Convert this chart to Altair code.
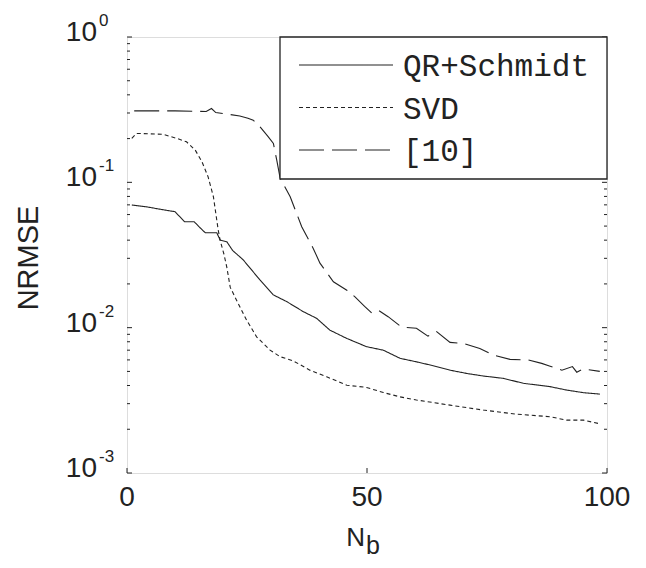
import altair as alt
import pandas as pd

# ---- data ----
methods = ["QR+Schmidt", "SVD", "[10]"]

nb_qr = [1, 4, 7, 10, 11, 12, 14, 15, 16.3, 18.7, 19.4, 20.8, 22, 24.2, 27.7, 30.5,
         33.3, 36.7, 39.5, 42.3, 45.8, 49.9, 53.4, 56.9, 60.3, 63.8, 67.3, 70.8,
         74.2, 78.4, 82.6, 88.1, 91.6, 95.1, 98.5]
err_qr = [0.0698, 0.0679, 0.0652, 0.0628, 0.058, 0.0536, 0.0536, 0.0495, 0.045,
          0.045, 0.0401, 0.039, 0.034, 0.0293, 0.0213, 0.0168, 0.0151, 0.0129,
          0.0116, 0.0096, 0.00843, 0.0074, 0.0070, 0.00615, 0.00582, 0.00547,
          0.0051, 0.00484, 0.00465, 0.00448, 0.00414, 0.00393, 0.00372, 0.00357,
          0.00349]

nb_svd = [1, 2, 7.5, 10.3, 12.4, 14.2, 15.6, 16.9, 18, 18.5, 19, 19.4, 20.2, 20.8,
          21.5, 22.8, 24.9, 27, 29.8, 31.9, 34.6, 38.1, 41.6, 45.8, 49.9, 53.4,
          56.9, 60.3, 67.3, 74.2, 81.2, 88.1, 91.6, 95.1, 98.5]
err_svd = [0.201, 0.217, 0.214, 0.201, 0.190, 0.167, 0.139, 0.109, 0.0796, 0.0612,
           0.047, 0.040, 0.032, 0.026, 0.019, 0.0155, 0.0113, 0.00865, 0.00701,
           0.00631, 0.00592, 0.0051, 0.00459, 0.00402, 0.00388, 0.00358, 0.00334,
           0.00318, 0.00293, 0.00271, 0.00254, 0.00244, 0.00231, 0.00231, 0.00218]

nb_ref = [1.5, 10, 16.5, 17.6, 18.5, 20.8, 23.5, 25.2, 26.3, 27.7, 29.4, 30.5, 31.2,
          31.9, 34, 36.4, 38.8, 40.2, 43, 45.8, 47.5, 49.5, 51, 52.5, 54.4, 57.2,
          60.3, 62.7, 64.5, 67.3, 70, 73.5, 76.3, 79.8, 83.6, 86.4, 88, 90.6, 92.8,
          93.7, 95, 98.5]
err_ref = [0.310, 0.310, 0.307, 0.322, 0.302, 0.295, 0.286, 0.276, 0.268, 0.241,
           0.206, 0.185, 0.142, 0.107, 0.0796, 0.0495, 0.0351, 0.0278, 0.0207,
           0.0181, 0.0163, 0.0140, 0.0126, 0.0131, 0.0119, 0.0101, 0.0099, 0.00875,
           0.0094, 0.00792, 0.0078, 0.0072, 0.00648, 0.00605, 0.0060, 0.00568,
           0.00545, 0.0051, 0.0054, 0.00494, 0.0052, 0.0050]

x_ticks = [0, 50, 100]
x_labels = ["0", "50", "100"]
decades = [1, 0.1, 0.01, 0.001]
exponents = ["0", "-1", "-2", "-3"]
minor = [m * d for d in [0.001, 0.01, 0.1] for m in range(2, 10)]

df = pd.concat([
    pd.DataFrame({"Nb": nb_qr, "NRMSE": err_qr, "method": methods[0]}),
    pd.DataFrame({"Nb": nb_svd, "NRMSE": err_svd, "method": methods[1]}),
    pd.DataFrame({"Nb": nb_ref, "NRMSE": err_ref, "method": methods[2]}),
])
dec_df = pd.DataFrame({"v": decades, "e": exponents})
minor_df = pd.DataFrame({"v": minor})
xt_df = pd.DataFrame({"v": x_ticks, "t": x_labels})
leg_df = pd.DataFrame({"method": methods})

W, H = 480, 436
INK = "#222222"
SANS = "Liberation Sans"

xscale = alt.Scale(domain=[0, 100], nice=False)
yscale = alt.Scale(type="log", domain=[0.001, 1], nice=False)
dash_scale = alt.Scale(domain=methods, range=[[1, 0], [4, 3], [25, 8]])
leg_y = alt.Y("method:N",
              scale=alt.Scale(type="point", domain=methods, range=[28, 113], padding=0),
              axis=None)

lines = alt.Chart(df).mark_line(color=INK, strokeWidth=1.1).encode(
    x=alt.X("Nb:Q", scale=xscale, axis=None),
    y=alt.Y("NRMSE:Q", scale=yscale, axis=None),
    strokeDash=alt.StrokeDash("method:N", scale=dash_scale, legend=None),
    order=alt.Order("Nb:Q"),
)


def yticks(data, x0, x1):
    return alt.Chart(data).mark_rule(color=INK, strokeWidth=1).encode(
        y=alt.Y("v:Q", scale=yscale, axis=None), x=alt.value(x0), x2=alt.value(x1))


tick_layers = [
    yticks(dec_df, 0, 5), yticks(minor_df, 0, 3),
    yticks(dec_df, W - 5, W), yticks(minor_df, W - 3, W),
    alt.Chart(xt_df).mark_rule(color=INK, strokeWidth=1).encode(
        x=alt.X("v:Q", scale=xscale, axis=None), y=alt.value(H - 5), y2=alt.value(H)),
]

x_lbl = alt.Chart(xt_df).mark_text(
    align="center", baseline="middle", font=SANS, fontSize=28, color=INK
).encode(x=alt.X("v:Q", scale=xscale, axis=None), y=alt.value(H + 25), text="t:N")

base_lbl = alt.Chart(dec_df).mark_text(
    text="10", align="right", baseline="middle", font=SANS, fontSize=28,
    color=INK, dy=-4
).encode(x=alt.value(-30), y=alt.Y("v:Q", scale=yscale, axis=None))

exp_lbl = alt.Chart(dec_df).mark_text(
    align="left", baseline="middle", font=SANS, fontSize=17, color=INK, dy=-16
).encode(x=alt.value(-28), y=alt.Y("v:Q", scale=yscale, axis=None), text="e:N")

ytitle = alt.Chart(pd.DataFrame({"t": ["NRMSE"]})).mark_text(
    angle=270, align="center", baseline="middle", font=SANS, fontSize=29, color=INK
).encode(x=alt.value(-98), y=alt.value(221), text="t:N")

xt_n = alt.Chart(pd.DataFrame({"t": ["N"]})).mark_text(
    align="right", baseline="middle", font=SANS, fontSize=26, color=INK
).encode(x=alt.value(238), y=alt.value(501), text="t:N")
xt_b = alt.Chart(pd.DataFrame({"t": ["b"]})).mark_text(
    align="left", baseline="middle", font=SANS, fontSize=25, color=INK
).encode(x=alt.value(239), y=alt.value(509), text="t:N")

# legend (drawn by hand so the long line samples fit the reference box)
leg_box = alt.Chart(pd.DataFrame({"k": [0]})).mark_rect(
    fill="white", stroke=INK, strokeWidth=1.3
).encode(x=alt.value(153), x2=alt.value(W), y=alt.value(0), y2=alt.value(142))

leg_lines = alt.Chart(leg_df).mark_rule(color=INK, strokeWidth=1.1).encode(
    x=alt.value(172), x2=alt.value(266), y=leg_y,
    strokeDash=alt.StrokeDash("method:N", scale=dash_scale, legend=None))

leg_text = alt.Chart(leg_df).mark_text(
    align="left", baseline="middle", font="Liberation Mono", fontSize=31,
    color=INK, dy=2
).encode(x=alt.value(276), y=leg_y, text="method:N")

chart = alt.layer(
    lines, *tick_layers, x_lbl, base_lbl, exp_lbl, ytitle, xt_n, xt_b,
    leg_box, leg_lines, leg_text
).resolve_scale(y="independent").properties(
    width=W, height=H,
    autosize=alt.AutoSizeParams(type="none"),
    padding={"left": 119, "top": 29, "right": 31, "bottom": 87},
).configure_view(stroke=INK, strokeWidth=1.3).configure(background="white")

chart.save("out.html", embed_options={"renderer": "svg", "actions": False})
